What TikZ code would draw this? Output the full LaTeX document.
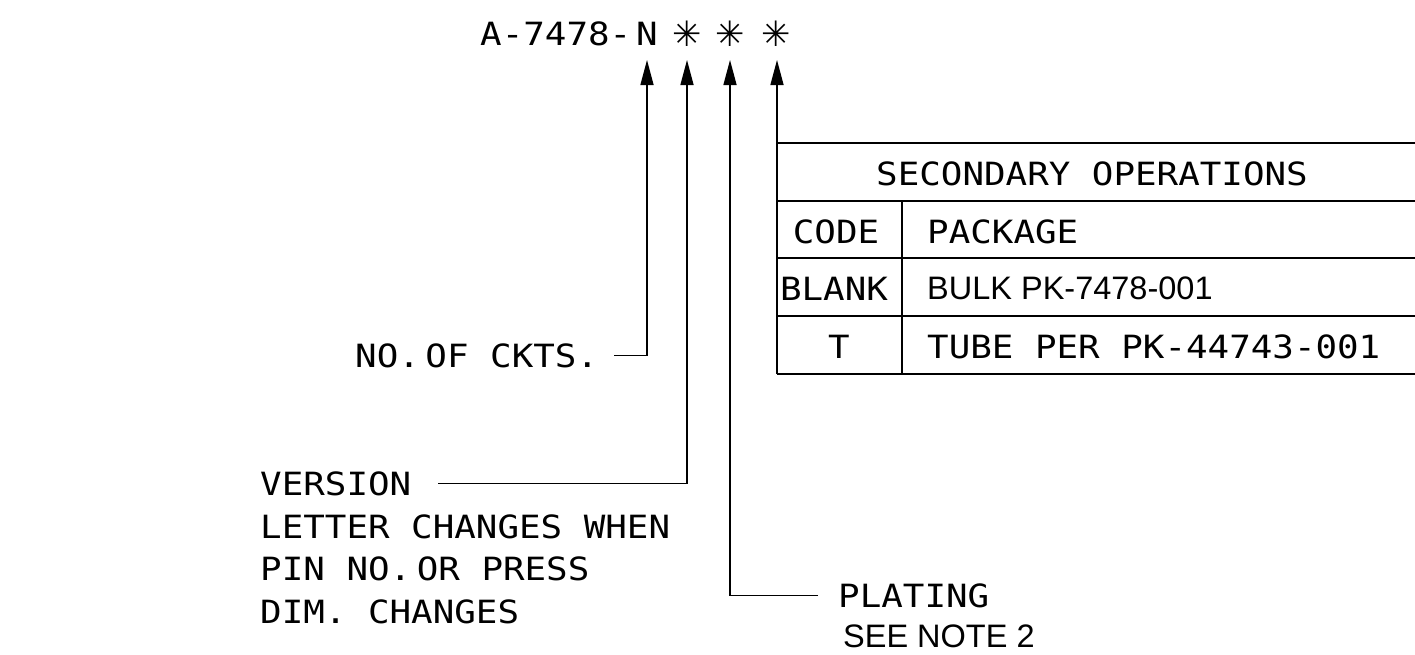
\documentclass[tikz,border=0pt]{standalone}
\usepackage{fontspec}
\newfontfamily\cadfont[FakeStretch=1.12]{DejaVu Sans Mono}
\newfontfamily\arialfont{Liberation Sans}
\newfontfamily\symfont{DejaVu Sans}
\newcommand{\nodot}{.\kern-16pt}
\usetikzlibrary{
  arrows.meta,
  positioning
}

\begin{document}
\begin{tikzpicture}[
  x=1pt, y=-1pt,
  cad/.style={
    font=\cadfont\fontsize{32}{42}\selectfont,
    inner sep=0pt, anchor=base west},
  arial/.style={
    font=\arialfont\fontsize{32.5}{40}\selectfont,
    inner sep=0pt, anchor=base west},
  star/.style={
    font=\symfont\fontsize{35}{35}\selectfont,
    inner sep=0pt},
  lead/.style={line width=1.4pt},
  pointer/.style={
    lead,
    -{Triangle[length=25pt, width=13pt]}}
]
\useasboundingbox (0,0) rectangle (1415,654);

\node[cad] (partno) at (480,45) {A-7478-};
\node[cad, anchor=base] (ckN) at (647,45) {N};
\node[star] (st1) at (687,34) {✳};
\node[star] (st2) at (730,34) {✳};
\node[star] (st3) at (776,34) {✳};

\coordinate (tipN) at (647,60);
\coordinate (tip1) at (687,60);
\coordinate (tip2) at (730,60);
\coordinate (tip3) at (777,60);

\node[cad] (ckts) at (355,367) {NO\nodot{} OF CKTS.};
\node[cad] (version) at (260,495) {VERSION};
\node[cad] (vnote1) at (260,538) {LETTER CHANGES WHEN};
\node[cad] (vnote2) at (260,580) {PIN NO\nodot{} OR PRESS};
\node[cad] (vnote3) at (260,623) {DIM. CHANGES};
\node[cad] (plating) at (838,607) {PLATING};
\node[arial] (seenote) at (843,647) {SEE NOTE 2};

\draw[pointer] ([xshift=16pt]ckts.east) -| (tipN);
\draw[pointer] ([xshift=27pt]version.east) -| (tip1);
\draw[pointer] ([xshift=-20pt]plating.west) -| (tip2);

\coordinate (tabNW) at (777,143);
\coordinate (tabSW) at (777,374);
\draw[pointer] (tabSW) -- (tip3);
\foreach \y in {143,201,258,316,374}
  \draw[lead] (777,\y) -- (1415,\y);
\draw[lead] (902,201) -- (902,374);

\node[cad, anchor=base] (secops) at (1092,185) {SECONDARY OPERATIONS};
\node[cad, anchor=base] (codehd) at (836,243) {CODE};
\node[cad] (pkghd) at (927,243) {PACKAGE};
\node[cad, anchor=base] (blank) at (834,300) {BLANK};
\node[arial] (bulk) at (927,299) {BULK PK-7478-001};
\node[cad, anchor=base] (tcode) at (839,358) {T};
\node[cad] (tube) at (927,358) {TUBE PER PK-44743-001};
\end{tikzpicture}
\end{document}
